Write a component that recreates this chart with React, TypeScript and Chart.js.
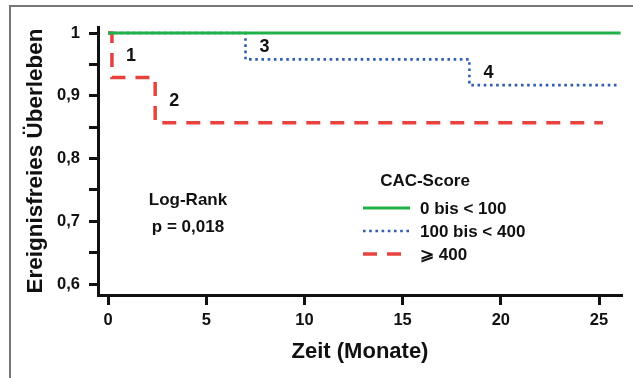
import React, { useEffect, useRef } from "react";
import { Chart, registerables } from "chart.js";

Chart.register(...registerables);

// ---- Data (Kaplan-Meier steps) ----
const monthsLow = [0, 26.1];
const survLow = [1, 1];
const monthsMid = [0, 7.0, 18.4, 25.9];
const survMid = [1, 0.958, 0.917, 0.917];
const monthsHigh = [0, 0.2, 2.4, 25.2];
const survHigh = [1, 0.929, 0.857, 0.857];

const seriesLabels = ["0 bis < 100", "100 bis < 400", "\u2A7E 400"];
const legendTitle = "CAC-Score";
const statLines = ["Log-Rank", "p = 0,018"];

const xTicks = [0, 5, 10, 15, 20, 25];
const yTicks = [0.6, 0.65, 0.7, 0.75, 0.8, 0.85, 0.9, 0.95, 1];

// event markers: [label, dataset index, point index]
const eventMarkers: [string, number, number][] = [
  ["1", 2, 1],
  ["2", 2, 2],
  ["3", 1, 1],
  ["4", 1, 2],
];

const FONT = "'Liberation Sans', Arial, Helvetica, sans-serif";
const INK = "#111111";
const GREEN = "#22b04b";
const BLUE = "#2f5fae";
const RED = "#e8423f";

const toPoints = (xs: number[], ys: number[]) => xs.map((x, i) => ({ x, y: ys[i] }));

const overlayPlugin = {
  id: "overlay",
  beforeDraw(chart: any) {
    const { ctx, width, height } = chart;
    ctx.save();
    ctx.fillStyle = "#ffffff";
    ctx.fillRect(0, 0, width, height);
    ctx.strokeStyle = "#777777";
    ctx.lineWidth = 2;
    ctx.beginPath();
    ctx.moveTo(10, height);
    ctx.lineTo(10, 6);
    ctx.lineTo(width, 6);
    ctx.stroke();
    ctx.restore();
  },
  afterDatasetsDraw(chart: any) {
    const { ctx, chartArea } = chart;
    const xs = chart.scales.x;
    const ys = chart.scales.y;
    ctx.save();
    ctx.fillStyle = INK;
    ctx.textBaseline = "middle";

    // event numbers
    ctx.font = `bold 18px ${FONT}`;
    ctx.textAlign = "center";
    eventMarkers.forEach(([txt, di, pi]) => {
      const ds = chart.data.datasets[di].data;
      const px = xs.getPixelForValue(ds[pi].x);
      const py = (ys.getPixelForValue(ds[pi - 1].y) + ys.getPixelForValue(ds[pi].y)) / 2;
      ctx.fillText(txt, px + 19, py + 1);
    });

    // Log-rank statistic
    ctx.font = `bold 17px ${FONT}`;
    const sx = chartArea.left + 90;
    const sy = chartArea.top + 173;
    statLines.forEach((t, i) => ctx.fillText(t, sx, sy + i * 27));

    // legend
    const lx = chartArea.left + 265;
    const ly = chartArea.top + 154;
    ctx.font = `bold 17px ${FONT}`;
    ctx.textAlign = "center";
    ctx.fillText(legendTitle, lx + 62, ly);
    ctx.textAlign = "left";
    chart.data.datasets.forEach((ds: any, i: number) => {
      const y = ly + 27 + i * 23;
      ctx.save();
      ctx.strokeStyle = ds.borderColor;
      ctx.lineWidth = ds.borderWidth;
      ctx.setLineDash(ds.borderDash || []);
      ctx.beginPath();
      ctx.moveTo(lx, y);
      ctx.lineTo(lx + 47, y);
      ctx.stroke();
      ctx.restore();
      ctx.fillText(ds.label, lx + 57, y + 1);
    });
    ctx.restore();
  },
};

export default function App() {
  const ref = useRef<HTMLCanvasElement | null>(null);

  useEffect(() => {
    if (!ref.current) return;
    const fmtY = (v: number) => {
      const r = Math.round(v * 100);
      if (r % 10 !== 0) return "";
      if (r === 100) return "1";
      return (r / 100).toFixed(1).replace(".", ",");
    };
    const chart = new Chart(ref.current, {
      type: "line",
      data: {
        datasets: [
          {
            label: seriesLabels[0],
            data: toPoints(monthsLow, survLow),
            borderColor: GREEN,
            borderWidth: 3,
            borderDash: [],
            stepped: "before",
            pointRadius: 0,
            fill: false,
          },
          {
            label: seriesLabels[1],
            data: toPoints(monthsMid, survMid),
            borderColor: BLUE,
            borderWidth: 2.6,
            borderDash: [2.6, 3.6],
            stepped: "before",
            pointRadius: 0,
            fill: false,
          },
          {
            label: seriesLabels[2],
            data: toPoints(monthsHigh, survHigh),
            borderColor: RED,
            borderWidth: 3.5,
            borderDash: [14, 10],
            stepped: "before",
            pointRadius: 0,
            fill: false,
          },
        ],
      } as any,
      options: {
        animation: false,
        responsive: false,
        maintainAspectRatio: false,
        layout: { padding: { left: 22, top: 27, right: 11, bottom: 13 } },
        plugins: { legend: { display: false }, tooltip: { enabled: false } },
        scales: {
          x: {
            type: "linear",
            min: -0.51,
            max: 26.17,
            afterBuildTicks: (s: any) => {
              s.ticks = xTicks.map((v) => ({ value: v }));
            },
            afterFit: (s: any) => {
              s.height = 70;
            },
            grid: {
              display: true,
              drawOnChartArea: false,
              drawTicks: true,
              tickLength: 10,
              tickWidth: 3,
              tickColor: INK,
            },
            border: { display: true, color: INK, width: 3 },
            ticks: {
              autoSkip: false,
              maxRotation: 0,
              padding: 6,
              color: INK,
              font: { family: FONT, size: 16.5, weight: "bold" },
              callback: (v: any) => String(v),
            },
            title: {
              display: true,
              text: "Zeit (Monate)",
              color: INK,
              padding: { top: 0, bottom: 0 },
              font: { family: FONT, size: 22, weight: "bold" },
            },
          },
          y: {
            type: "linear",
            min: 0.5825,
            max: 1.0096,
            afterBuildTicks: (s: any) => {
              s.ticks = yTicks.map((v) => ({ value: v }));
            },
            afterFit: (s: any) => {
              s.width = 76;
            },
            grid: {
              display: true,
              drawOnChartArea: false,
              drawTicks: true,
              tickLength: 9,
              tickWidth: 3,
              tickColor: INK,
            },
            border: { display: true, color: INK, width: 3 },
            ticks: {
              autoSkip: false,
              padding: 9,
              color: INK,
              font: { family: FONT, size: 16.5, weight: "bold" },
              callback: (v: any) => fmtY(Number(v)),
            },
            title: {
              display: true,
              text: "Ereignisfreies Überleben",
              color: INK,
              padding: { top: 0, bottom: 0 },
              font: { family: FONT, size: 22.5, weight: "bold" },
            },
          },
        },
      } as any,
      plugins: [overlayPlugin],
    });
    return () => chart.destroy();
  }, []);

  return (
    <div style={{ position: "fixed", left: 0, top: 0, width: 633, height: 378, background: "#fff" }}>
      <canvas ref={ref} width={633} height={378} style={{ display: "block", width: 633, height: 378 }} />
    </div>
  );
}
